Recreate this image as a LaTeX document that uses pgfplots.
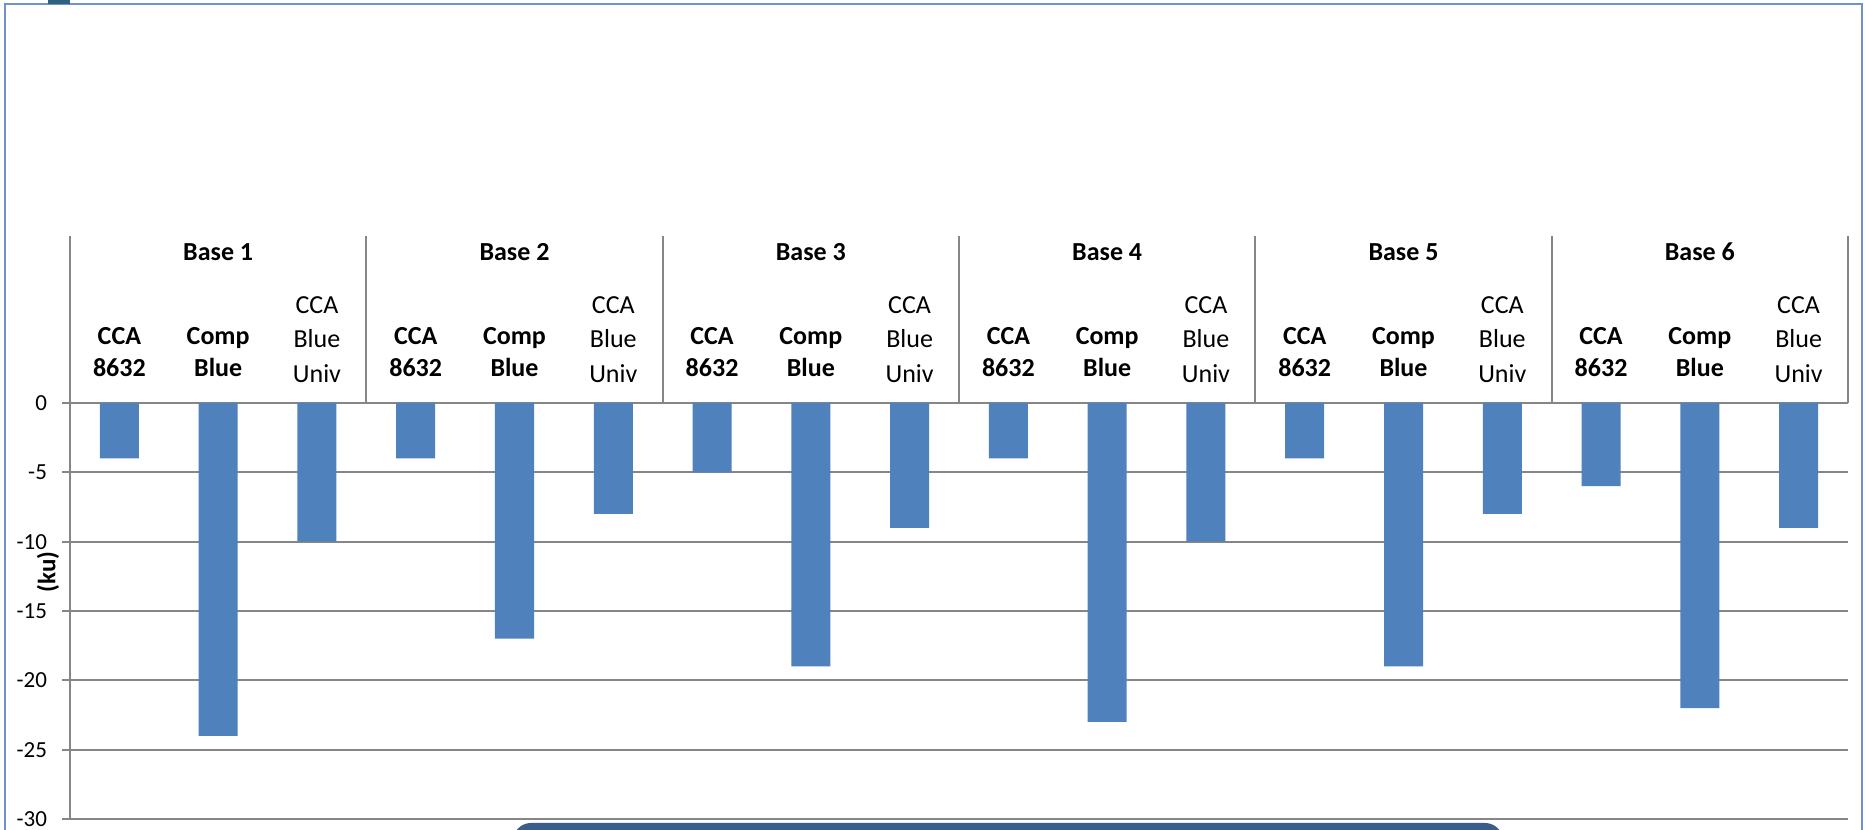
\documentclass[border=0pt]{standalone}
\usepackage{fontspec}
\setmainfont{Carlito}
\usepackage{pgfplots}
\pgfplotsset{compat=1.18}

\definecolor{barblue}{RGB}{79,129,189}
\definecolor{gridgray}{RGB}{134,134,134}
\definecolor{frameblue}{RGB}{110,146,204}
\definecolor{boxblue}{RGB}{58,94,140}
\definecolor{tabblue}{RGB}{47,98,128}

\tikzset{hdr/.style={anchor=base, inner sep=0pt, text=black}}
\newcommand\hdrfont{\fontsize{13}{15}\selectfont}

% Labels of one group: centres of the three bars, then the base number
\newcommand\grouplabels[4]{%
  \node[hdr, font=\hdrfont\bfseries] at (axis cs:#2,10.31) {Base #4};
  \node[hdr, font=\hdrfont\bfseries] at (axis cs:#1,4.25) {CCA};
  \node[hdr, font=\hdrfont\bfseries] at (axis cs:#1,1.875) {8632};
  \node[hdr, font=\hdrfont\bfseries] at (axis cs:#2,4.25) {Comp};
  \node[hdr, font=\hdrfont\bfseries] at (axis cs:#2,1.875) {Blue};
  \node[hdr, font=\hdrfont] at (axis cs:#3,6.49) {CCA};
  \node[hdr, font=\hdrfont] at (axis cs:#3,3.97) {Blue};
  \node[hdr, font=\hdrfont] at (axis cs:#3,1.51) {Univ};
}

\begin{document}
\begin{tikzpicture}
\begin{scope}[x=0.5pt,y=0.5pt]
  \clip (0,0) rectangle (1865,830);
  \fill[white] (0,0) rectangle (1865,830);
  % chart area frame
  \draw[frameblue, line width=1.2pt] (5,-20) -- (5,826) -- (1862,826) -- (1862,-20);
  \fill[tabblue] (48,826) rectangle (70,834);
  % rounded panel below the chart
  \fill[boxblue, rounded corners=9pt] (513,-40) rectangle (1503,7);
\end{scope}

\begin{axis}[
  at={(35pt,5.5pt)}, anchor=south west,
  scale only axis, width=889pt, height=208pt,
  xmin=0, xmax=18, ymin=-30, ymax=0,
  enlargelimits=false,
  axis x line=none,
  axis y line=left,
  axis line style={gridgray, line width=1pt, -},
  xtick=\empty,
  ytick={-30,-25,...,0},
  ymajorgrids,
  grid style={gridgray, line width=1pt},
  tick style={gridgray, line width=1pt},
  tick align=outside,
  major tick length=4pt,
  /pgf/number format/assume math mode=true,
  yticklabel style={font=\fontsize{11.5}{13}\selectfont, text=black, xshift=-4pt},
  clip=false,
]
\addplot[ybar, fill=barblue, draw=none, bar width=0.395] coordinates {
  (0.5,-4)  (1.5,-24) (2.5,-10)
  (3.5,-4)  (4.5,-17) (5.5,-8)
  (6.5,-5)  (7.5,-19) (8.5,-9)
  (9.5,-4)  (10.5,-23) (11.5,-10)
  (12.5,-4) (13.5,-19) (14.5,-8)
  (15.5,-6) (16.5,-22) (17.5,-9)
};

% category table above the bars
\draw[gridgray, line width=1pt] (axis cs:0,0) -- (axis cs:0,12.04);
\draw[gridgray, line width=1pt] (axis cs:3,0) -- (axis cs:3,12.04);
\draw[gridgray, line width=1pt] (axis cs:6,0) -- (axis cs:6,12.04);
\draw[gridgray, line width=1pt] (axis cs:9,0) -- (axis cs:9,12.04);
\draw[gridgray, line width=1pt] (axis cs:12,0) -- (axis cs:12,12.04);
\draw[gridgray, line width=1pt] (axis cs:15,0) -- (axis cs:15,12.04);
\draw[gridgray, line width=1pt] (axis cs:18,0) -- (axis cs:18,12.04);

\grouplabels{0.5}{1.5}{2.5}{1}
\grouplabels{3.5}{4.5}{5.5}{2}
\grouplabels{6.5}{7.5}{8.5}{3}
\grouplabels{9.5}{10.5}{11.5}{4}
\grouplabels{12.5}{13.5}{14.5}{5}
\grouplabels{15.5}{16.5}{17.5}{6}

% axis title
\node[rotate=90, inner sep=0pt, font=\bfseries\fontsize{12.5}{14}\selectfont]
  at (axis cs:-0.223,-12.19) {(ku)};
\end{axis}
% the page is the chart area; the lowest tick label runs off its edge
\pgfresetboundingbox
\path[use as bounding box] (0,0) rectangle (932.5pt,415pt);
\end{tikzpicture}
\end{document}
